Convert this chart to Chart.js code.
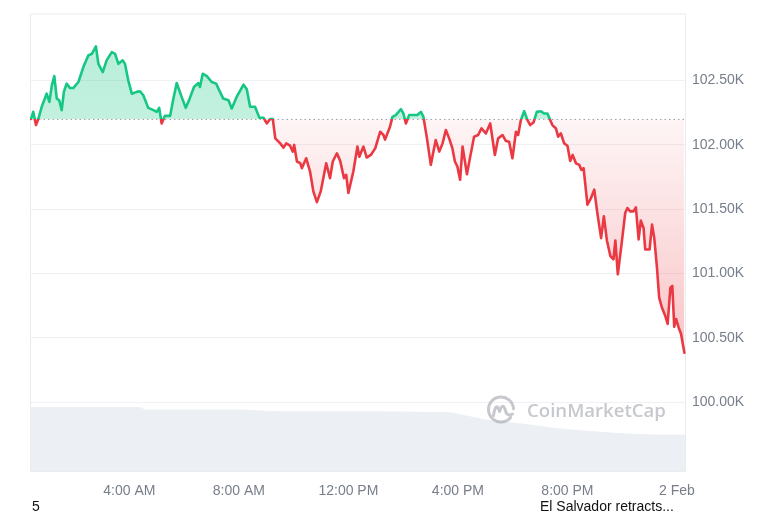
<!DOCTYPE html>
<html><head><meta charset="utf-8">
<script src="https://cdn.jsdelivr.net/npm/chart.js@4.4.1/dist/chart.umd.min.js"></script>
<style>
html,body{margin:0;padding:0;background:#fff;}
#wrap{position:relative;width:768px;height:512px;overflow:hidden;background:#fff;}
canvas{position:absolute;left:0;top:0;}
.note{position:absolute;font:14px "Liberation Sans",Arial,sans-serif;color:#111;line-height:14px;white-space:nowrap;}
</style></head><body>
<div id="wrap"><canvas id="c" width="768" height="512"></canvas>
<div class="note" style="left:32px;top:499px">5</div>
<div class="note" style="left:540px;top:499px">El Salvador retracts...</div>
</div>
<script>
// hours since 1 Feb 00:00
const TIMES = [
0.41,0.49,0.59,0.68,0.80,0.98,1.08,1.17,1.26,1.35,
1.44,1.53,1.61,1.71,1.83,1.95,2.14,2.32,2.50,2.63,
2.78,2.87,3.03,3.17,3.36,3.48,3.60,3.76,3.84,3.96,
4.09,4.27,4.39,4.51,4.69,4.88,5.00,5.09,5.18,5.30,
5.49,5.61,5.73,5.91,6.06,6.19,6.36,6.52,6.58,6.68,
6.83,7.01,7.17,7.31,7.43,7.62,7.74,7.92,8.17,8.29,
8.41,8.59,8.75,8.90,9.02,9.14,9.24,9.33,9.51,9.63,
9.73,9.87,9.97,10.02,10.12,10.24,10.30,10.46,10.60,10.72,
10.85,10.99,11.19,11.33,11.43,11.58,11.70,11.84,11.92,12.00,
12.18,12.33,12.40,12.55,12.67,12.82,12.98,13.16,13.28,13.34,
13.52,13.61,13.73,13.92,14.01,14.10,14.22,14.40,14.52,14.65,
14.74,14.87,15.01,15.19,15.32,15.44,15.56,15.68,15.80,15.89,
15.98,16.08,16.17,16.33,16.45,16.59,16.74,16.86,17.02,17.18,
17.35,17.47,17.63,17.75,17.87,17.99,18.12,18.20,18.30,18.42,
18.54,18.64,18.76,18.88,19.03,19.15,19.27,19.37,19.45,19.58,
19.66,19.76,19.88,20.00,20.10,20.19,20.31,20.43,20.51,20.59,
20.73,20.86,20.98,21.10,21.23,21.33,21.44,21.57,21.68,21.75,
21.84,21.99,22.11,22.19,22.29,22.41,22.50,22.60,22.68,22.78,
22.84,23.00,23.09,23.17,23.27,23.35,23.45,23.57,23.66,23.76,
23.83,23.90,23.97,24.06,24.15,24.27];
const PRICES = [
102200,102255,102152,102203,102294,102396,102332,102461,102533,102358,
102345,102268,102410,102474,102440,102440,102487,102603,102693,102706,
102763,102628,102564,102655,102719,102706,102628,102655,102628,102500,
102396,102410,102415,102384,102286,102268,102255,102286,102165,102224,
102224,102358,102479,102371,102286,102350,102448,102479,102448,102551,
102533,102487,102474,102410,102358,102345,102281,102371,102466,102430,
102294,102294,102209,102209,102165,102199,102199,102049,102010,101977,
102010,101992,101946,101998,101869,101856,101817,101894,101791,101637,
101554,101637,101856,101740,101869,101933,101874,101740,101766,101624,
101791,101985,101907,101985,101900,101920,101971,102100,102075,102039,
102139,102216,102230,102276,102242,102165,102230,102230,102230,102255,
102216,102049,101843,102036,101946,102010,102114,102049,101971,101869,
101830,101727,101985,101770,101907,102062,102075,102126,102087,102165,
101920,102049,102075,102029,102023,101894,102100,102075,102191,102260,
102191,102152,102172,102255,102260,102242,102242,102191,102152,102126,
102062,102087,102010,101992,101874,101920,101855,101843,101804,101817,
101534,101585,101650,101457,101274,101444,101258,101134,101109,101256,
100993,101250,101469,101508,101482,101482,101513,101264,101410,101353,
101186,101186,101379,101276,101044,100812,100735,100671,100607,100889,
100903,100586,100645,100580,100529,100383];
const OPEN_PRICE = 102196;

const VOL_TIMES = [0.37,4.39,4.57,8.04,9.40,13.31,15.72,16.96,18.17,19.99,21.82,23.06,24.33];
const VOLUMES   = [52.2,52.2,50.2,50.2,48.8,48.8,48.0,42.4,39.4,34.4,31.4,30.2,30.2];
const VOL_AXIS_MAX = 368;

const X_TICKS  = [4,8,12,16,20,24];
const X_LABELS = ['4:00 AM','8:00 AM','12:00 PM','4:00 PM','8:00 PM','2 Feb'];
const Y_TICKS  = [100000,100500,101000,101500,102000,102500];
const Y_LABELS = ['100.00K','100.50K','101.00K','101.50K','102.00K','102.50K'];
const X_RANGE = [0.372, 24.33];
const Y_RANGE = [99457, 103012];

const GREEN = '#16c784';
const RED = '#ea3943';
const LABEL_COLOR = '#777e8a';
const FONT = '"Liberation Sans", Arial, sans-serif';

function splitAt(chart){
  const a = chart.chartArea;
  const y0 = chart.scales.y.getPixelForValue(OPEN_PRICE);
  return Math.min(1, Math.max(0, (y0 - a.top) / (a.bottom - a.top)));
}
function lineColor(ctx){
  const c = ctx.chart, a = c.chartArea;
  if (!a) return GREEN;
  const f = splitAt(c);
  const g = c.ctx.createLinearGradient(0, a.top, 0, a.bottom);
  g.addColorStop(0, GREEN); g.addColorStop(f, GREEN);
  g.addColorStop(f, RED); g.addColorStop(1, RED);
  return g;
}
function fillColor(ctx){
  const c = ctx.chart, a = c.chartArea;
  if (!a) return 'rgba(0,0,0,0)';
  const f = splitAt(c);
  const g = c.ctx.createLinearGradient(0, a.top, 0, a.bottom);
  g.addColorStop(0, 'rgba(22,199,132,0.32)');
  g.addColorStop(f, 'rgba(22,199,132,0.26)');
  g.addColorStop(f, 'rgba(234,57,67,0.05)');
  g.addColorStop(1, 'rgba(234,57,67,0.42)');
  return g;
}

const framePlugin = {
  id: 'frame',
  beforeDatasetsDraw(chart){
    const {ctx, chartArea:a} = chart;
    ctx.save();
    ctx.strokeStyle = '#e9ebee';
    ctx.lineWidth = 1;
    ctx.strokeRect(a.left + 0.5, a.top - 0.5, a.right - a.left - 1, a.bottom - a.top);
    ctx.restore();
  }
};

const watermarkPlugin = {
  id: 'wm',
  afterDatasetsDraw(chart){
    const {ctx, chartArea:a} = chart;
    const col = 'rgba(160,164,172,0.6)';
    const cx = a.right - 185, cy = a.bottom - 62.5;
    ctx.save();
    ctx.strokeStyle = col;
    ctx.lineWidth = 3;
    ctx.lineCap = 'round';
    ctx.lineJoin = 'round';
    ctx.beginPath();
    ctx.arc(cx, cy, 12.5, 0.22 * Math.PI, 1.98 * Math.PI);
    ctx.stroke();
    ctx.beginPath();
    ctx.moveTo(cx - 7.5, cy + 6);
    ctx.quadraticCurveTo(cx - 5, cy - 9, cx - 1.5, cy + 2);
    ctx.quadraticCurveTo(cx + 2, cy - 9, cx + 5, cy + 3);
    ctx.quadraticCurveTo(cx + 7, cy + 7, cx + 11.5, cy + 4.5);
    ctx.stroke();
    ctx.fillStyle = col;
    let size = 20;
    ctx.font = '600 ' + size + 'px "Open Sans", sans-serif';
    const w = ctx.measureText('CoinMarketCap').width;
    size = size * 139 / w;
    ctx.font = '600 ' + size.toFixed(2) + 'px "Open Sans", sans-serif';
    ctx.textBaseline = 'alphabetic';
    ctx.fillText('CoinMarketCap', a.right - 159, a.bottom - 55.3);
    ctx.restore();
  }
};

new Chart(document.getElementById('c'), {
  type: 'line',
  data: {
    datasets: [
      {
        label: 'Price',
        data: TIMES.map((t, i) => ({x: t, y: PRICES[i]})),
        borderColor: lineColor,
        backgroundColor: fillColor,
        fill: {target: {value: OPEN_PRICE}},
        borderWidth: 2.6,
        pointRadius: 0,
        tension: 0,
        borderJoinStyle: 'round',
        borderCapStyle: 'round',
        yAxisID: 'y',
        order: 1
      },
      {
        label: 'Open',
        data: [{x: X_RANGE[0], y: OPEN_PRICE}, {x: X_RANGE[1], y: OPEN_PRICE}],
        borderColor: '#9aa0a8',
        borderWidth: 1,
        borderDash: [1.5, 3],
        pointRadius: 0,
        fill: false,
        yAxisID: 'y',
        order: 2
      },
      {
        label: 'Volume',
        data: VOL_TIMES.map((t, i) => ({x: t, y: VOLUMES[i]})),
        borderWidth: 0,
        borderColor: 'rgba(0,0,0,0)',
        backgroundColor: '#eceff3',
        fill: 'start',
        pointRadius: 0,
        tension: 0,
        yAxisID: 'yv',
        order: 3
      }
    ]
  },
  options: {
    responsive: false,
    animation: false,
    events: [],
    layout: {padding: {left: 30, top: 12, right: 0, bottom: 0}},
    plugins: {
      legend: {display: false},
      tooltip: {enabled: false},
      filler: {drawTime: 'beforeDatasetsDraw'}
    },
    scales: {
      x: {
        type: 'linear',
        min: X_RANGE[0], max: X_RANGE[1],
        grid: {display: false, drawTicks: false},
        border: {display: false},
        afterBuildTicks: s => { s.ticks = X_TICKS.map(v => ({value: v})); },
        afterFit: s => { s.height = 40; },
        ticks: {
          autoSkip: false, maxRotation: 0, padding: 11,
          color: LABEL_COLOR, font: {family: FONT, size: 14},
          callback: (v, i) => X_LABELS[i]
        }
      },
      y: {
        position: 'right',
        min: Y_RANGE[0], max: Y_RANGE[1],
        grid: {color: '#eff1f4', drawTicks: false},
        border: {display: false},
        afterBuildTicks: s => { s.ticks = Y_TICKS.map(v => ({value: v})); },
        afterFit: s => { s.width = 82; },
        ticks: {
          padding: 6,
          color: LABEL_COLOR, font: {family: FONT, size: 14},
          callback: (v, i) => Y_LABELS[i]
        }
      },
      yv: {display: false, min: 0, max: VOL_AXIS_MAX}
    }
  },
  plugins: [framePlugin, watermarkPlugin]
});
</script>
</body></html>
